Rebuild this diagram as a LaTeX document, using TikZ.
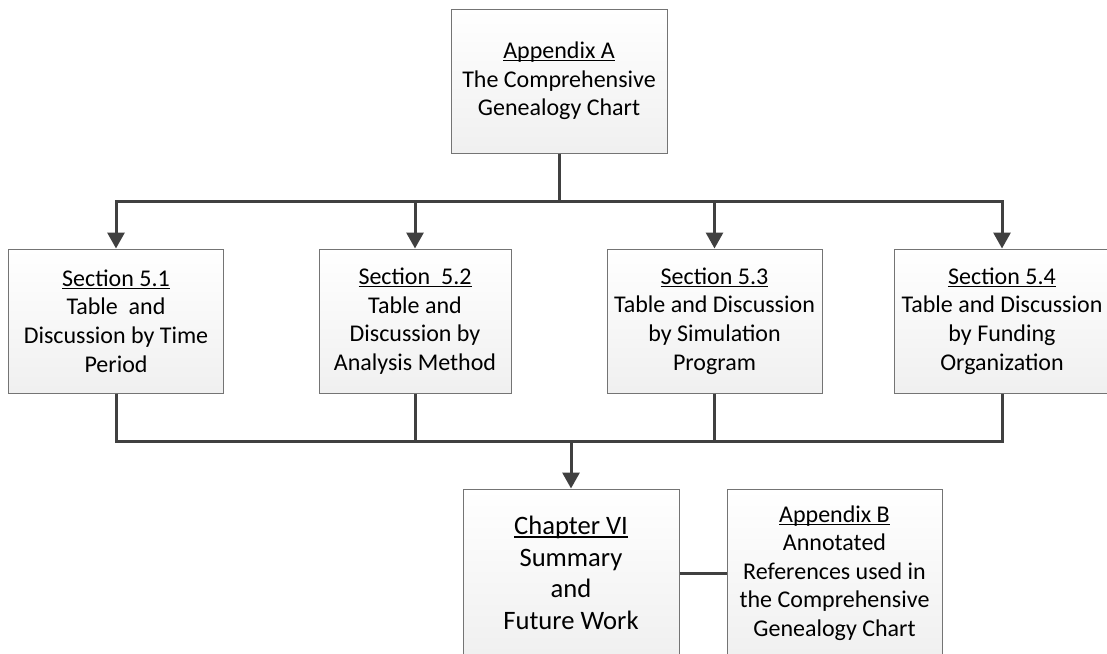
\documentclass[tikz,border=0pt]{standalone}
\usepackage{fontspec}
\setmainfont{Carlito}
\usetikzlibrary{arrows.meta}
% underline drawn as a rule just below the baseline
\newcommand{\uln}[1]{\leavevmode\setbox0=\hbox{#1}\rlap{\rule[-2.8pt]{\wd0}{1.3pt}}\box0}
\definecolor{edge}{HTML}{747474}
\definecolor{wire}{HTML}{404040}
\tikzset{
  card/.style={draw=edge, line width=1pt, top color=white, bottom color=black!6,
    rectangle, inner sep=0pt, align=center,
    font=\fontsize{24}{28.6}\selectfont},
  bigcard/.style={card, font=\fontsize{26.6}{31.6}\selectfont},
  wirepath/.style={draw=wire, line width=3pt, line join=miter},
  >={Triangle[width=17pt,length=16pt]}
}
\begin{document}
\begin{tikzpicture}[x=1pt,y=-1pt]
\useasboundingbox (0,0) rectangle (1107,653);
\fill[white] (0,0) rectangle (1107,653);
\begin{scope}
\clip (0,0) rectangle (1107,653);

% top-level appendix
\node[card, minimum width=216pt, minimum height=144pt] (appA) at (559,81)
  {\uln{Appendix A}\\The Comprehensive\\Genealogy Chart};

% sections of chapter V
\node[card, minimum width=215pt, minimum height=144pt] (s1) at (116,321)
  {\uln{Section 5.1}\\Table\ \ and\\Discussion by Time\\Period};
\node[card, minimum width=192pt, minimum height=144pt] (s2) at (415,321)
  {\uln{Section\ \ 5.2}\\Table and\\Discussion by\\Analysis Method};
\node[card, minimum width=215pt, minimum height=144pt] (s3) at (714.5,321)
  {\uln{Section 5.3}\\Table and Discussion\\by Simulation\\Program};
\node[card, minimum width=215pt, minimum height=144pt] (s4) at (1002,321)
  {\uln{Section 5.4}\\Table and Discussion\\by Funding\\Organization};

% closing chapter and second appendix
\node[bigcard, minimum width=216pt, minimum height=168pt] (ch6) at (571,573)
  {\uln{Chapter VI}\\Summary\\and\\Future Work};
\node[card, minimum width=215pt, minimum height=168pt] (appB) at (834.5,573)
  {\uln{Appendix B}\\Annotated\\References used in\\the Comprehensive\\Genealogy Chart};

% bus lines
\coordinate (topbus) at (0,201);
\coordinate (lowbus) at (0,441);

\draw[wirepath] (appA.south) -- (appA.south |- topbus);
\draw[wirepath, <->] (s1.north) -- (s1.north |- topbus)
  -- (s4.north |- topbus) -- (s4.north);
\draw[wirepath, ->] (s2.north |- topbus) -- (s2.north);
\draw[wirepath, ->] (s3.north |- topbus) -- (s3.north);

\draw[wirepath] (s1.south) -- (s1.south |- lowbus)
  -- (s4.south |- lowbus) -- (s4.south);
\draw[wirepath] (s2.south) -- (s2.south |- lowbus);
\draw[wirepath] (s3.south) -- (s3.south |- lowbus);
\draw[wirepath, ->] (ch6.north |- lowbus) -- (ch6.north);

\draw[wirepath] (ch6.east) -- (appB.west);
\end{scope}
\end{tikzpicture}
\end{document}
